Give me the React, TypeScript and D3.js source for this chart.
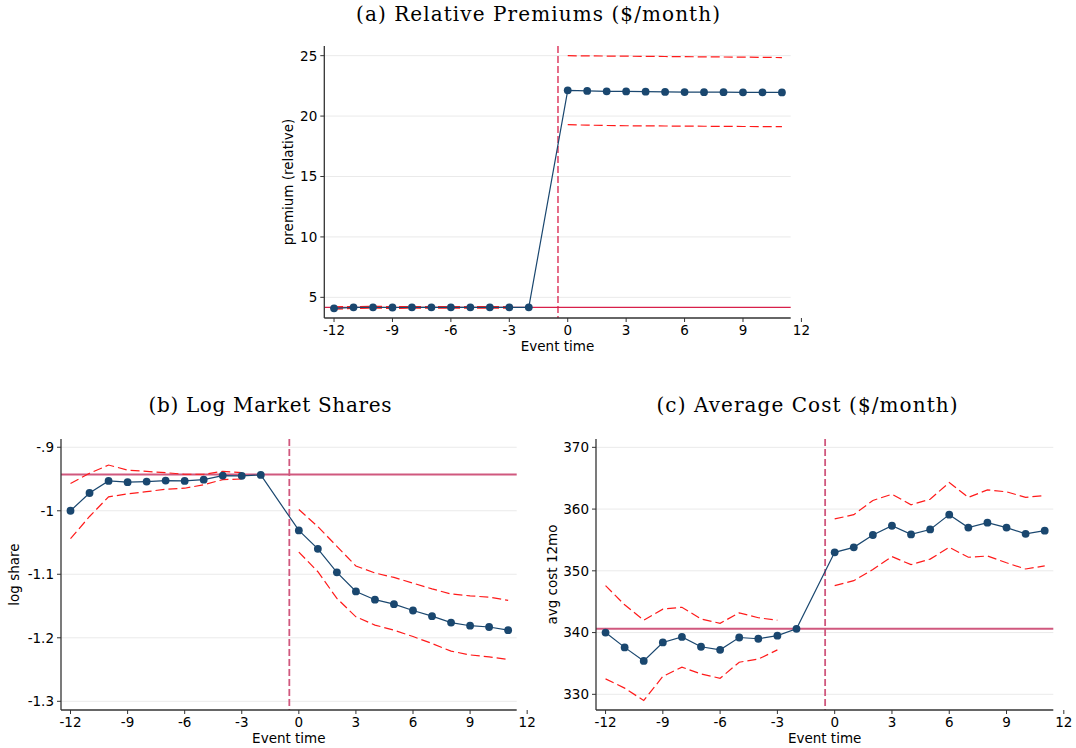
import React from 'react';
import * as d3 from 'd3';

// ---------- shared x data ----------
const preTimes = [-12, -11, -10, -9, -8, -7, -6, -5, -4, -3, -2];
const ciPreTimes = [-12, -11, -10, -9, -8, -7, -6, -5, -4, -3];
const postTimes = [0, 1, 2, 3, 4, 5, 6, 7, 8, 9, 10, 11];
const xTickValues = [-12, -9, -6, -3, 0, 3, 6, 9, 12];
const xTickLabels = ['-12', '-9', '-6', '-3', '0', '3', '6', '9', '12'];

// ---------- (a) Relative premiums ----------
const premiumPre = [4.09, 4.17, 4.17, 4.16, 4.17, 4.17, 4.17, 4.17, 4.17, 4.17, 4.17];
const premiumPost = [22.13, 22.08, 22.05, 22.04, 22.02, 22.0, 21.99, 21.98, 21.98, 21.97, 21.97, 21.96];
const premiumUpperPre = [4.22, 4.24, 4.25, 4.24, 4.24, 4.24, 4.24, 4.24, 4.24, 4.23];
const premiumLowerPre = [4.02, 4.08, 4.1, 4.09, 4.1, 4.1, 4.1, 4.1, 4.1, 4.11];
const premiumUpperPost = [25.0, 24.98, 24.97, 24.96, 24.94, 24.93, 24.92, 24.9, 24.89, 24.88, 24.86, 24.84];
const premiumLowerPost = [19.29, 19.25, 19.22, 19.2, 19.19, 19.18, 19.17, 19.16, 19.15, 19.14, 19.13, 19.12];
const premiumRef = 4.17;
const premiumTicks = [5, 10, 15, 20, 25];
const premiumTickLabels = ['5', '10', '15', '20', '25'];

// ---------- (b) Log market shares ----------
const sharePre = [-1.0, -0.972, -0.953, -0.955, -0.954, -0.9525, -0.953, -0.951, -0.9446, -0.945, -0.9436];
const sharePost = [-1.031, -1.06, -1.097, -1.127, -1.14, -1.147, -1.157, -1.166, -1.176, -1.181, -1.183, -1.188];
const shareUpperPre = [-0.957, -0.941, -0.928, -0.936, -0.938, -0.94, -0.9425, -0.9425, -0.938, -0.94];
const shareLowerPre = [-1.044, -1.009, -0.978, -0.9735, -0.97, -0.966, -0.9645, -0.959, -0.951, -0.95];
const shareUpperPost = [-0.998, -1.025, -1.056, -1.087, -1.098, -1.105, -1.114, -1.123, -1.131, -1.134, -1.136, -1.141];
const shareLowerPost = [-1.065, -1.096, -1.138, -1.167, -1.18, -1.188, -1.198, -1.209, -1.221, -1.227, -1.23, -1.234];
const shareRef = -0.943;
const shareTicks = [-1.3, -1.2, -1.1, -1.0, -0.9];
const shareTickLabels = ['-1.3', '-1.2', '-1.1', '-1', '-.9'];

// ---------- (c) Average cost ----------
const costPre = [340.0, 337.6, 335.4, 338.4, 339.3, 337.7, 337.2, 339.2, 339.0, 339.5, 340.6];
const costPost = [353.0, 353.8, 355.8, 357.3, 355.9, 356.7, 359.1, 357.0, 357.8, 357.0, 356.0, 356.5];
const costUpperPre = [347.6, 344.5, 342.0, 343.8, 344.1, 342.2, 341.5, 343.2, 342.4, 342.0];
const costLowerPre = [332.5, 331.0, 329.0, 332.9, 334.4, 333.3, 332.6, 335.2, 335.7, 337.2];
const costUpperPost = [358.4, 359.1, 361.4, 362.4, 360.7, 361.6, 364.3, 361.9, 363.1, 362.8, 361.9, 362.2];
const costLowerPost = [347.6, 348.4, 350.2, 352.3, 351.0, 351.9, 353.8, 352.2, 352.4, 351.3, 350.3, 350.8];
const costRef = 340.6;
const costTicks = [330, 340, 350, 360, 370];
const costTickLabels = ['330', '340', '350', '360', '370'];

const NAVY = '#1a476f';
const CI_RED = '#ff1a1a';
const SANS = '"DejaVu Sans", Verdana, sans-serif';
const SERIF = '"DejaVu Serif", serif';

type Box = { left: number; right: number; top: number; bottom: number };

interface PanelProps {
  box: Box;
  yDomain: [number, number];
  yTicks: number[];
  yTickLabels: string[];
  pre: number[];
  post: number[];
  upPre: number[];
  loPre: number[];
  upPost: number[];
  loPost: number[];
  refY: number;
  title: string;
  titleX: number;
  titleY: number;
  titleLen: number;
  ylabel: string;
  ylabelX: number;
  refColor: string;
  refWidth: number;
  vColor: string;
  vWidth: number;
}

function Panel(p: PanelProps) {
  const { box } = p;
  const x = d3.scaleLinear().domain([-12.5, 11.45]).range([box.left, box.right]);
  const y = d3.scaleLinear().domain(p.yDomain).range([box.bottom, box.top]);
  const line = d3
    .line<[number, number]>()
    .x((d) => x(d[0]))
    .y((d) => y(d[1]));

  const main: [number, number][] = [
    ...p.pre.map((v, i) => [preTimes[i], v] as [number, number]),
    ...p.post.map((v, i) => [postTimes[i], v] as [number, number]),
  ];
  const ciSeg = (times: number[], vals: number[]) =>
    line(vals.map((v, i) => [times[i], v] as [number, number])) || '';

  const midX = (box.left + box.right) / 2;
  const midY = (box.top + box.bottom) / 2;

  return (
    <g>
      <text
        x={p.titleX}
        y={p.titleY}
        textAnchor="middle"
        fontFamily={SERIF}
        fontSize={20}
        textLength={p.titleLen}
        lengthAdjust="spacing"
        fill="#000"
      >
        {p.title}
      </text>
      {/* gridlines */}
      {p.yTicks.map((t) => (
        <line key={'g' + t} x1={box.left} x2={box.right} y1={y(t)} y2={y(t)} stroke="#eaeaea" strokeWidth={1} />
      ))}
      {/* reference lines */}
      <line x1={box.left} x2={box.right} y1={y(p.refY)} y2={y(p.refY)} stroke={p.refColor} strokeWidth={p.refWidth} />
      <line
        x1={x(-0.5)}
        x2={x(-0.5)}
        y1={box.top}
        y2={box.bottom}
        stroke={p.vColor}
        strokeWidth={p.vWidth}
        strokeDasharray="7,3"
      />
      {/* confidence bands */}
      {[ciSeg(ciPreTimes, p.upPre), ciSeg(ciPreTimes, p.loPre), ciSeg(postTimes, p.upPost), ciSeg(postTimes, p.loPost)].map(
        (d, i) => (
          <path key={'ci' + i} d={d} fill="none" stroke={CI_RED} strokeWidth={1.2} strokeDasharray="9,4" />
        )
      )}
      {/* main series */}
      <path d={line(main) || ''} fill="none" stroke={NAVY} strokeWidth={1.2} />
      {main.map((d, i) => (
        <circle key={'m' + i} cx={x(d[0])} cy={y(d[1])} r={3.9} fill={NAVY} />
      ))}
      {/* axes */}
      <line x1={box.left} x2={box.left} y1={box.top} y2={box.bottom} stroke="#333" strokeWidth={1.3} />
      <line x1={box.left} x2={box.right} y1={box.bottom} y2={box.bottom} stroke="#333" strokeWidth={1.3} />
      {p.yTicks.map((t, i) => (
        <g key={'yt' + t}>
          <line x1={box.left - 4} x2={box.left} y1={y(t)} y2={y(t)} stroke="#333" strokeWidth={1} />
          <text
            x={box.left - 7}
            y={y(t)}
            dy="0.36em"
            textAnchor="end"
            fontFamily={SANS}
            fontSize={13.5}
            fill="#000"
          >
            {p.yTickLabels[i]}
          </text>
        </g>
      ))}
      {xTickValues.map((t, i) => (
        <g key={'xt' + t}>
          <line x1={x(t)} x2={x(t)} y1={box.bottom} y2={box.bottom + 4} stroke="#333" strokeWidth={1} />
          <text x={x(t)} y={box.bottom + 17} textAnchor="middle" fontFamily={SANS} fontSize={13.5} fill="#000">
            {xTickLabels[i]}
          </text>
        </g>
      ))}
      <text x={midX} y={box.bottom + 33} textAnchor="middle" fontFamily={SANS} fontSize={13.5} fill="#000">
        Event time
      </text>
      <text
        transform={`translate(${p.ylabelX},${midY}) rotate(-90)`}
        textAnchor="middle"
        fontFamily={SANS}
        fontSize={13.5}
        fill="#000"
      >
        {p.ylabel}
      </text>
    </g>
  );
}

export default function App() {
  return (
    <div style={{ position: 'absolute', left: 0, top: 0, width: 1076, height: 748, background: '#fff' }}>
      <svg width={1076} height={748} style={{ display: 'block' }}>
        <rect x={0} y={0} width={1076} height={748} fill="#fff" />
        <Panel
          box={{ left: 324.3, right: 790.7, top: 46, bottom: 318 }}
          yDomain={[3.29, 25.8]}
          yTicks={premiumTicks}
          yTickLabels={premiumTickLabels}
          pre={premiumPre}
          post={premiumPost}
          upPre={premiumUpperPre}
          loPre={premiumLowerPre}
          upPost={premiumUpperPost}
          loPost={premiumLowerPost}
          refY={premiumRef}
          title="(a) Relative Premiums ($/month)"
          titleX={538}
          titleY={21}
          titleLen={364}
          ylabel="premium (relative)"
          ylabelX={293}
          refColor="#d8204a"
          refWidth={1.2}
          vColor="#d8204a"
          vWidth={1.3}
        />
        <Panel
          box={{ left: 61, right: 516.7, top: 439, bottom: 710 }}
          yDomain={[-1.3137, -0.887]}
          yTicks={shareTicks}
          yTickLabels={shareTickLabels}
          pre={sharePre}
          post={sharePost}
          upPre={shareUpperPre}
          loPre={shareLowerPre}
          upPost={shareUpperPost}
          loPost={shareLowerPost}
          refY={shareRef}
          title="(b) Log Market Shares"
          titleX={270}
          titleY={412}
          titleLen={243}
          ylabel="log share"
          ylabelX={19}
          refColor="#d0587e"
          refWidth={2}
          vColor="#d0587e"
          vWidth={1.8}
        />
        <Panel
          box={{ left: 596, right: 1053.3, top: 439, bottom: 710 }}
          yDomain={[327.46, 371.35]}
          yTicks={costTicks}
          yTickLabels={costTickLabels}
          pre={costPre}
          post={costPost}
          upPre={costUpperPre}
          loPre={costLowerPre}
          upPost={costUpperPost}
          loPost={costLowerPost}
          refY={costRef}
          title="(c) Average Cost ($/month)"
          titleX={807}
          titleY={412}
          titleLen={301}
          ylabel="avg cost 12mo"
          ylabelX={557}
          refColor="#d0587e"
          refWidth={2}
          vColor="#d0587e"
          vWidth={1.8}
        />
      </svg>
    </div>
  );
}
